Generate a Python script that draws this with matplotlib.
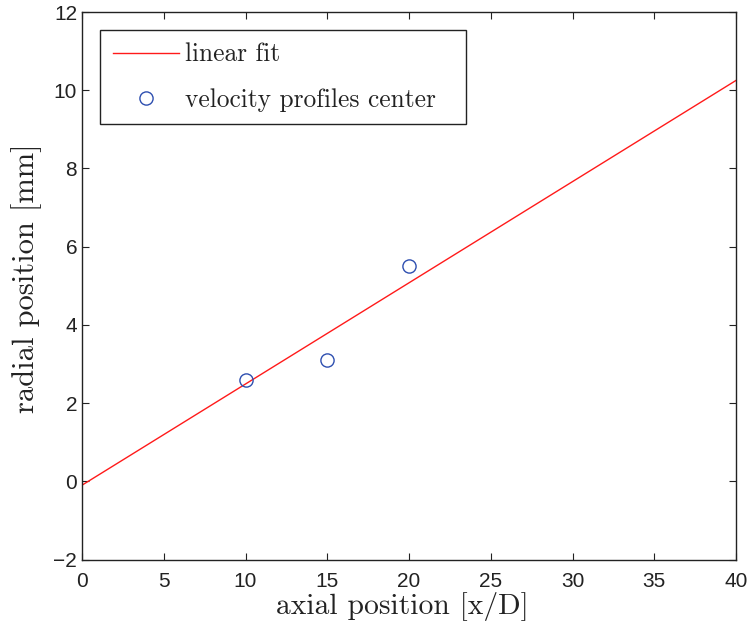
import matplotlib
matplotlib.use("Agg")
import matplotlib.pyplot as plt

# data
fit_x = [0, 40]
fit_y = [-0.1, 10.25]
center_x = [10, 15, 20]
center_y = [2.6, 3.1, 5.5]
xticks = [0, 5, 10, 15, 20, 25, 30, 35, 40]
yticks = [-2, 0, 2, 4, 6, 8, 10, 12]

fig = plt.figure(figsize=(7.51, 6.34), dpi=100)
W, H = 751, 634
L, T, R, B = 82, 12, 736, 559.5
ax = fig.add_axes([L / W, 1 - B / H, (R - L) / W, (B - T) / H])

ax.plot(fit_x, fit_y, color="#ff1a1a", lw=1.0, label="linear fit")
ax.plot(center_x, center_y, ls="none", marker="o", ms=9.5, mfc="none",
        mec="#2e4fb0", mew=1.0, label="velocity profiles center  ")

ax.set_xlim(0, 40)
ax.set_ylim(-2, 12)
ax.set_xticks(xticks)
ax.set_yticks(yticks)
ax.tick_params(direction="in", length=5, width=0.8, top=True, right=True,
               labelsize=15, colors="#222222")
ax.tick_params(axis="x", pad=9)
ax.tick_params(axis="y", pad=3.5)
for lab in ax.get_xticklabels() + ax.get_yticklabels():
    lab.set_family("Liberation Sans")
for s in ax.spines.values():
    s.set_color("#222222")
    s.set_linewidth(1.0)

ax.set_xlabel("axial position [x/D]", family="cmr10", fontsize=21.3, color="#222222")
ax.set_ylabel("radial position [mm]", family="cmr10", fontsize=22, color="#222222")
ax.xaxis.set_label_coords((402 - L) / (R - L), -(592 - B) / (B - T))
ax.yaxis.set_label_coords((42 - L) / (R - L), 0.5 + 8 / (B - T))

leg = ax.legend(loc="upper left", bbox_to_anchor=((100 - L) / (R - L), 1 - (30 - T) / (B - T)),
                prop={"family": "cmr10", "size": 18.3}, fancybox=False, edgecolor="#222222",
                framealpha=1, borderpad=0.5, handlelength=2.6, labelspacing=0.85, handletextpad=0.25,
                borderaxespad=0)
leg.get_frame().set_linewidth(1.0)
for t in leg.get_texts():
    t.set_color("#222222")

fig.savefig("out.png", dpi=100)
